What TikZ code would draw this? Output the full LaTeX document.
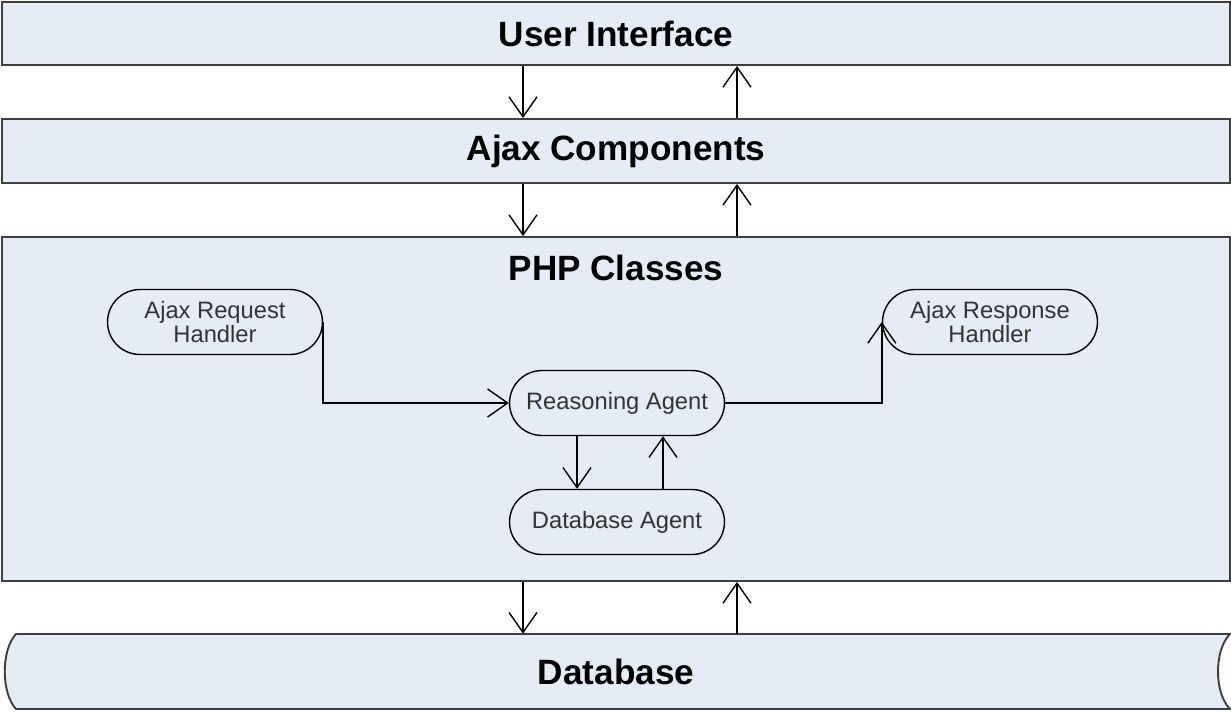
\documentclass[tikz,border=0pt]{standalone}
\usepackage{fontspec}
\setmainfont{Liberation Sans}
\usetikzlibrary{arrows.meta}
\definecolor{layerfill}{RGB}{229,236,246}
\definecolor{edgegray}{RGB}{64,64,64}

\begin{document}
\begin{tikzpicture}[x=0.02cm, y=-0.02cm,
  layer/.style={draw=edgegray, line width=1.1pt, fill=layerfill, minimum width=24.56cm, inner sep=0pt, font=\fontsize{20}{24}\selectfont\bfseries},
  agent/.style={draw=black, line width=0.8pt, rounded corners=0.65cm, minimum width=4.3cm, minimum height=1.3cm, align=center, inner sep=0pt, text=black!80, font=\fontsize{13.5}{13.5}\selectfont},
  flow/.style={-{Straight Barb[length=0.4cm, width=0.56cm]}, line width=0.8pt}]
\useasboundingbox (0,0) rectangle (1231,711);

% Layers
\node[layer, minimum height=1.26cm] (ui) at (616,33.5) {User Interface};
\node[layer, minimum height=1.28cm] (ajax) at (616,151) {Ajax Components};
\node[layer, minimum height=6.88cm] (php) at (616,409) {};
\node[font=\fontsize{20}{24}\selectfont\bfseries] (phplbl) at (616,268) {PHP Classes};

% Database store
\draw[draw=edgegray, line width=1.1pt, fill=layerfill] (16,634) -- (1230,634) .. controls (1214,650) and (1214,693) .. (1230,709) -- (16,709) .. controls (1,693) and (1,650) .. (16,634) -- cycle;
\node[minimum height=1.5cm, inner sep=0pt, font=\fontsize{20}{24}\selectfont\bfseries] (db) at (616,671.5) {Database};

% Agents
\node[agent] (req) at (215,322) {Ajax Request\\Handler};
\node[agent] (resp) at (990,322) {Ajax Response\\Handler};
\node[agent] (rea) at (617,403) {Reasoning Agent};
\node[agent] (dba) at (617,522) {Database Agent};

% Layer arrows
\coordinate (dnx) at (523,0);
\coordinate (upx) at (737,0);
\draw[flow] (ui.south -| dnx) -- (ajax.north -| dnx);
\draw[flow] (ajax.north -| upx) -- (ui.south -| upx);
\draw[flow] (ajax.south -| dnx) -- (php.north -| dnx);
\draw[flow] (php.north -| upx) -- (ajax.south -| upx);
\draw[flow] (php.south -| dnx) -- (db.north -| dnx);
\draw[flow] (db.north -| upx) -- (php.south -| upx);

% Agent arrows
\coordinate (adn) at (577,0);
\coordinate (aup) at (663,0);
\draw[flow] (req.east) |- (rea.west);
\draw[flow] (rea.east) -| (resp.west);
\draw[flow] (rea.south -| adn) -- (dba.north -| adn);
\draw[flow] (dba.north -| aup) -- (rea.south -| aup);
\end{tikzpicture}
\end{document}
